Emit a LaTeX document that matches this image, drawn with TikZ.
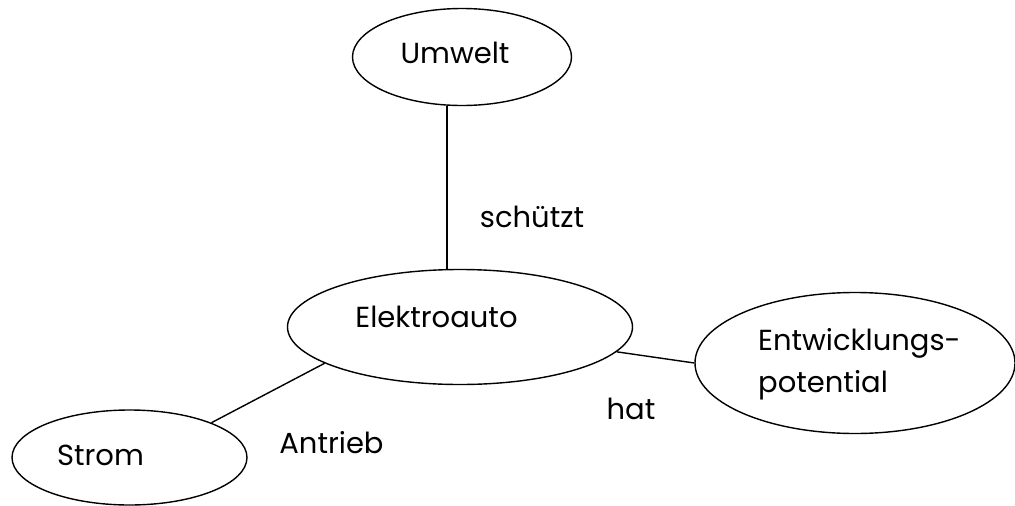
\documentclass[tikz,border=0pt]{standalone}
\usepackage{fontspec}
\setmainfont{Poppins}
\usetikzlibrary{shapes.geometric}
\tikzset{
	every bubble/.style={
		ellipse,
		draw,
		line width=1.4pt,
		inner sep=0pt
	},
	bubble text/.style={
		font=\fontsize{29}{42}\selectfont,
		anchor=base,
		inner sep=0pt
	},
}

\begin{document}
\begin{tikzpicture}[x=1pt,y=-1pt]
\tikzset{LinkStyle/.style = {draw, line width=1.4pt}}
\useasboundingbox (0,0) rectangle (1015,506);

\node[every bubble, minimum width=219pt, minimum height=97pt] (umwelt) at (462,57) {};
	\node[every bubble, minimum width=345pt, minimum height=115pt] (auto) at (460,327) {};
		\node[every bubble, minimum width=320pt, minimum height=141pt] (entw) at (855,363) {};
		\node[every bubble, minimum width=235pt, minimum height=95pt] (strom) at (129.5,457.5) {};

\node[bubble text] (umweltText) at (455,63) {Umwelt};
\node[bubble text] (autoText) at (436.5,327) {Elektroauto};
\node[bubble text, anchor=base west, align=left] (entwText) at (758,392) {Entwicklungs-\\potential};
\node[bubble text] (stromText) at (100.5,465) {Strom};

\node[bubble text] (schuetzt) at (532,227) {schützt};
\node[bubble text] (hat) at (631,419) {hat};
\node[bubble text] (antrieb) at (331.5,453) {Antrieb};

\path[LinkStyle] (umwelt.253) -- (umwelt.253 |- auto.north);
\path[LinkStyle] (auto.351) -- (entw.west);
\path[LinkStyle] (auto.195) -- (strom.23);
\end{tikzpicture}
\end{document}
